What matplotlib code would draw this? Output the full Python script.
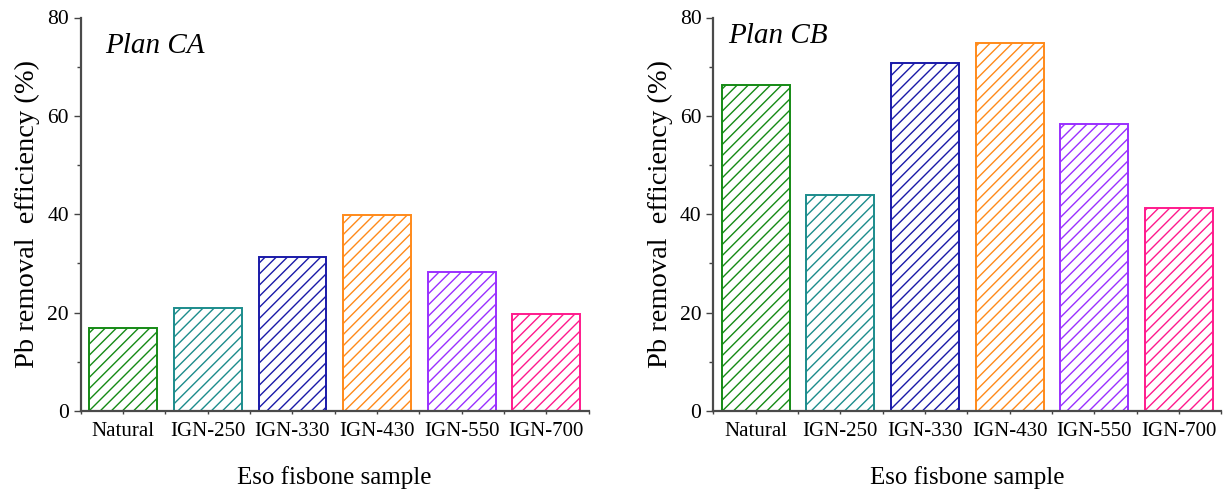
import matplotlib
matplotlib.use("Agg")
import matplotlib.pyplot as plt
from matplotlib.ticker import MultipleLocator
import numpy as np

plt.rcParams['font.family'] = ['Liberation Serif', 'DejaVu Serif']
plt.rcParams['hatch.linewidth'] = 1.0

samples = ['Natural', 'IGN-250', 'IGN-330', 'IGN-430', 'IGN-550', 'IGN-700']
plan_ca = [16.8, 21.0, 31.4, 39.8, 28.3, 19.7]
plan_cb = [66.3, 43.9, 70.7, 74.9, 58.4, 41.3]
bar_colors = ['#158a15', '#1c8c8c', '#1a1aa8', '#ff8a1a', '#9a30ff', '#ff1a8c']

fig = plt.figure(figsize=(12.25, 4.93), dpi=100)
ax1 = fig.add_axes([80.7 / 1225, 1 - 411 / 493, 508 / 1225, 393.5 / 493])
ax2 = fig.add_axes([713.3 / 1225, 1 - 411 / 493, 508 / 1225, 393.5 / 493])

x = np.arange(len(samples))


def draw_panel(ax, values, title, tx, ty):
    for xi, v, c in zip(x, values, bar_colors):
        ax.bar(xi, v, width=0.8, facecolor='white', edgecolor=c,
               hatch='///', linewidth=1.4)
    ax.set_xlim(-0.5, 5.5)
    ax.set_ylim(0, 80)
    ax.yaxis.set_major_locator(MultipleLocator(20))
    ax.yaxis.set_minor_locator(MultipleLocator(10))
    ax.set_xticks(x)
    ax.set_xticklabels(samples, fontsize=15)
    ax.xaxis.set_minor_locator(MultipleLocator(0.5))
    ax.tick_params(axis='y', labelsize=15.5, length=5, width=1, direction='out',
                   color='#444444')
    ax.tick_params(axis='y', which='minor', length=3, width=1, color='#444444')
    ax.tick_params(axis='x', which='both', length=2, width=1, color='#444444', pad=6)
    for side in ('top', 'right'):
        ax.spines[side].set_visible(False)
    for side in ('left', 'bottom'):
        ax.spines[side].set_color('#4a4a4a')
        ax.spines[side].set_linewidth(1.6)
    ax.set_ylabel('Pb removal  efficiency (%)', fontsize=20.5, labelpad=5)
    ax.set_xlabel('Eso fisbone sample', fontsize=18, labelpad=18)
    ax.text(tx, ty, title, transform=ax.transAxes, fontsize=21,
            fontstyle='italic', ha='left', va='baseline')


draw_panel(ax1, plan_ca, 'Plan CA', 0.048, 0.91)
draw_panel(ax2, plan_cb, 'Plan CB', 0.03, 0.935)

fig.savefig('out.png', dpi=100)
